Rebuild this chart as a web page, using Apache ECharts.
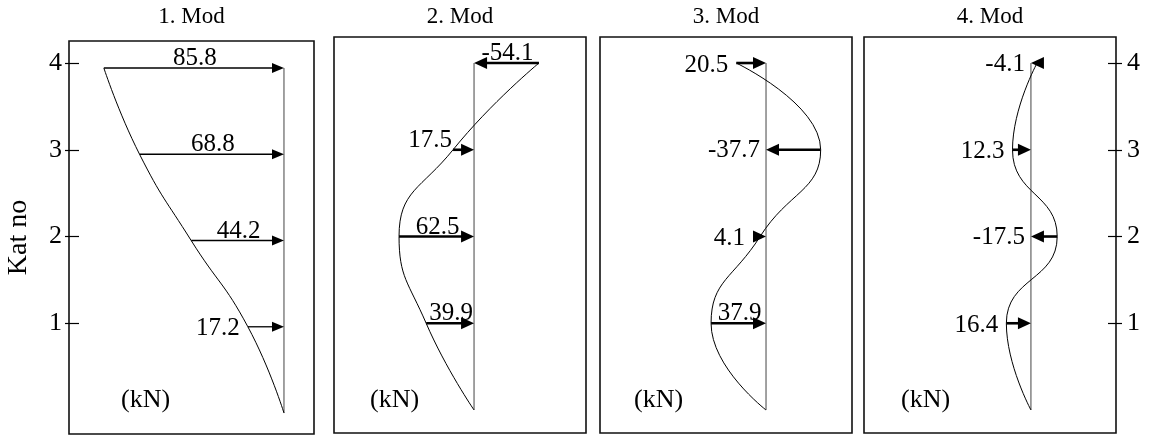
<!DOCTYPE html>
<html>
<head>
<meta charset="utf-8">
<script src="https://cdn.jsdelivr.net/npm/echarts@6/dist/echarts.min.js"></script>
<style>
  html, body { margin: 0; padding: 0; background: #fff; }
  #chart { width: 1151px; height: 438px; }
</style>
</head>
<body>
<div id="chart"></div>
<script>
// Storey forces per vibration mode (kN), listed from the top floor down
const FLOORS = [4, 3, 2, 1];
const MODE_TITLES = ['1. Mod', '2. Mod', '3. Mod', '4. Mod'];
const MODE_1 = [85.8, 68.8, 44.2, 17.2];
const MODE_2 = [-54.1, 17.5, 62.5, 39.9];
const MODE_3 = [20.5, -37.7, 4.1, 37.9];
const MODE_4 = [-4.1, 12.3, -17.5, 16.4];
const FLOOR_TICKS = [1, 2, 3, 4];
const AXIS_NAME = 'Kat no';
const UNIT = '(kN)';

const MODES = [MODE_1, MODE_2, MODE_3, MODE_4];

// Panel frames and value windows (positive forces are drawn to the left of the base line)
const PANELS = [
  { left: 69,  top: 41, width: 245, height: 393, xMin: -14.3, xMax: 102.4, yMin: -0.243, yMax: 4.313, unitX: 121 },
  { left: 334, top: 37, width: 252, height: 396, xMin: -93.3, xMax: 116.7, yMin: -0.265, yMax: 4.300, unitX: 370 },
  { left: 600, top: 37, width: 252, height: 396, xMin: -59.3, xMax: 114.5, yMin: -0.265, yMax: 4.300, unitX: 634 },
  { left: 864, top: 37, width: 252, height: 396, xMin: -56.7, xMax: 111.3, yMin: -0.265, yMax: 4.300, unitX: 901 }
];
// Where each force label sits: above the arrow, left of its tail, or left of the base line
const LABEL_SIDE = [
  ['top', 'top', 'top', 'tail'],
  ['top', 'tailUp', 'top', 'top'],
  ['tail', 'base', 'tail', 'top'],
  ['base', 'tail', 'base', 'tail']
];
const ARROW_STYLE = [
  { width: 1.3, head: 12, half: 5 },
  { width: 2.6, head: 13, half: 6 },
  { width: 2.6, head: 13, half: 6 },
  { width: 2.6, head: 13, half: 6 }
];
const FONT = '"Liberation Serif", "DejaVu Serif", serif';
const VALUE_FONT = '25px ' + FONT;

function arrowSeries(p) {
  const st = ARROW_STYLE[p];
  return {
    type: 'custom',
    xAxisIndex: p,
    yAxisIndex: p,
    silent: true,
    z: 5,
    data: MODES[p].map((v, i) => [v, FLOORS[i], i]),
    encode: { x: 0, y: 1 },
    renderItem: function (params, api) {
      const v = api.value(0), f = api.value(1), i = api.value(2);
      const tail = api.coord([v, f]);
      const tip = api.coord([0, f]);
      const dir = tip[0] >= tail[0] ? 1 : -1;
      const headBase = tip[0] - dir * st.head;
      const y = tip[1];
      const children = [];
      if ((headBase - tail[0]) * dir > 0) {
        children.push({
          type: 'line',
          shape: { x1: tail[0], y1: y, x2: headBase + dir * 1, y2: y },
          style: { stroke: '#000', lineWidth: st.width }
        });
      }
      children.push({
        type: 'polygon',
        shape: { points: [[tip[0], y], [headBase, y - st.half], [headBase, y + st.half]] },
        style: { fill: '#000' }
      });
      const side = LABEL_SIDE[p][i];
      const text = String(v);
      let tx, ty, align, valign;
      const leftEnd = Math.min(tail[0], headBase, tip[0]);
      if (side === 'top') {
        tx = (tail[0] + tip[0]) / 2 + 1; ty = y + 3; align = 'center'; valign = 'bottom';
      } else if (side === 'tail') {
        tx = leftEnd - 8; ty = y + 2; align = 'right'; valign = 'middle';
      } else if (side === 'tailUp') {
        tx = leftEnd - 1; ty = y + 3; align = 'right'; valign = 'bottom';
      } else {
        tx = tip[0] - 6; ty = y + 1; align = 'right'; valign = 'middle';
      }
      children.push({
        type: 'text',
        x: tx, y: ty,
        style: { text: text, font: VALUE_FONT, fill: '#000', align: align, verticalAlign: valign }
      });
      return { type: 'group', children: children };
    }
  };
}

function modeShapeSeries(p) {
  const pts = [[0, 0]].concat(FLOORS.map((f, i) => [MODES[p][i], f]).reverse());
  return {
    type: 'line',
    xAxisIndex: p,
    yAxisIndex: p,
    data: pts,
    smooth: 0.5,
    showSymbol: false,
    silent: true,
    lineStyle: { color: '#000', width: 1 },
    z: 3
  };
}

function baseLineSeries(p) {
  return {
    type: 'line',
    xAxisIndex: p,
    yAxisIndex: p,
    data: [[0, 0], [0, 4]],
    showSymbol: false,
    silent: true,
    lineStyle: { color: '#444', width: 1 },
    z: 2
  };
}

const grids = PANELS.map(g => ({
  left: g.left, top: g.top, width: g.width, height: g.height,
  show: true, borderColor: '#111', borderWidth: 1.6, backgroundColor: 'transparent',
  containLabel: false, outerBoundsMode: 'none'
}));

const xAxes = PANELS.map((g, p) => ({
  type: 'value', gridIndex: p, min: g.xMin, max: g.xMax, inverse: true, show: false
}));

const yAxes = PANELS.map((g, p) => ({
  type: 'value', gridIndex: p, min: g.yMin, max: g.yMax, show: false
}));

// Floor tick axes on the outer panels
const tickRange = { min: -0.277, max: 4.254 };
function tickAxis(gridIndex, position, inside, len, withLabels, margin, extra) {
  return Object.assign({
    type: 'value', gridIndex: gridIndex, position: position,
    min: gridIndex === 0 ? tickRange.min : -0.265,
    max: gridIndex === 0 ? tickRange.max : 4.300,
    axisLine: { show: false },
    splitLine: { show: false },
    axisTick: { show: true, inside: inside, length: len, customValues: FLOOR_TICKS, lineStyle: { color: '#000', width: 1.2 } },
    axisLabel: {
      show: withLabels, customValues: FLOOR_TICKS, margin: margin,
      fontFamily: FONT, fontSize: 26, color: '#000',
      formatter: v => String(v)
    }
  }, extra || {});
}
yAxes.push(tickAxis(0, 'left', false, 4, true, 7, {
  name: AXIS_NAME, nameLocation: 'middle', nameGap: 36,
  nameTextStyle: { fontFamily: FONT, fontSize: 28, color: '#000' }
}));
yAxes.push(tickAxis(0, 'left', true, 10, false, 7));
yAxes.push(tickAxis(3, 'right', false, 6, true, 11));
yAxes.push(tickAxis(3, 'right', true, 8, false, 11));

const series = [];
PANELS.forEach((g, p) => {
  series.push(baseLineSeries(p));
  series.push(modeShapeSeries(p));
  series.push(arrowSeries(p));
});

const graphics = [];
PANELS.forEach((g, p) => {
  graphics.push({
    type: 'text', x: g.left + g.width / 2, y: 17,
    style: { text: MODE_TITLES[p], font: '23px ' + FONT, fill: '#000', align: 'center', verticalAlign: 'middle' }
  });
  graphics.push({
    type: 'text', x: g.unitX, y: 400,
    style: { text: UNIT, font: '26px ' + FONT, fill: '#000', align: 'left', verticalAlign: 'middle' }
  });
});

const chart = echarts.init(document.getElementById('chart'), null, { renderer: 'canvas' });
chart.setOption({
  animation: false,
  backgroundColor: '#fff',
  grid: grids,
  xAxis: xAxes,
  yAxis: yAxes,
  series: series,
  graphic: graphics
});
</script>
</body>
</html>
